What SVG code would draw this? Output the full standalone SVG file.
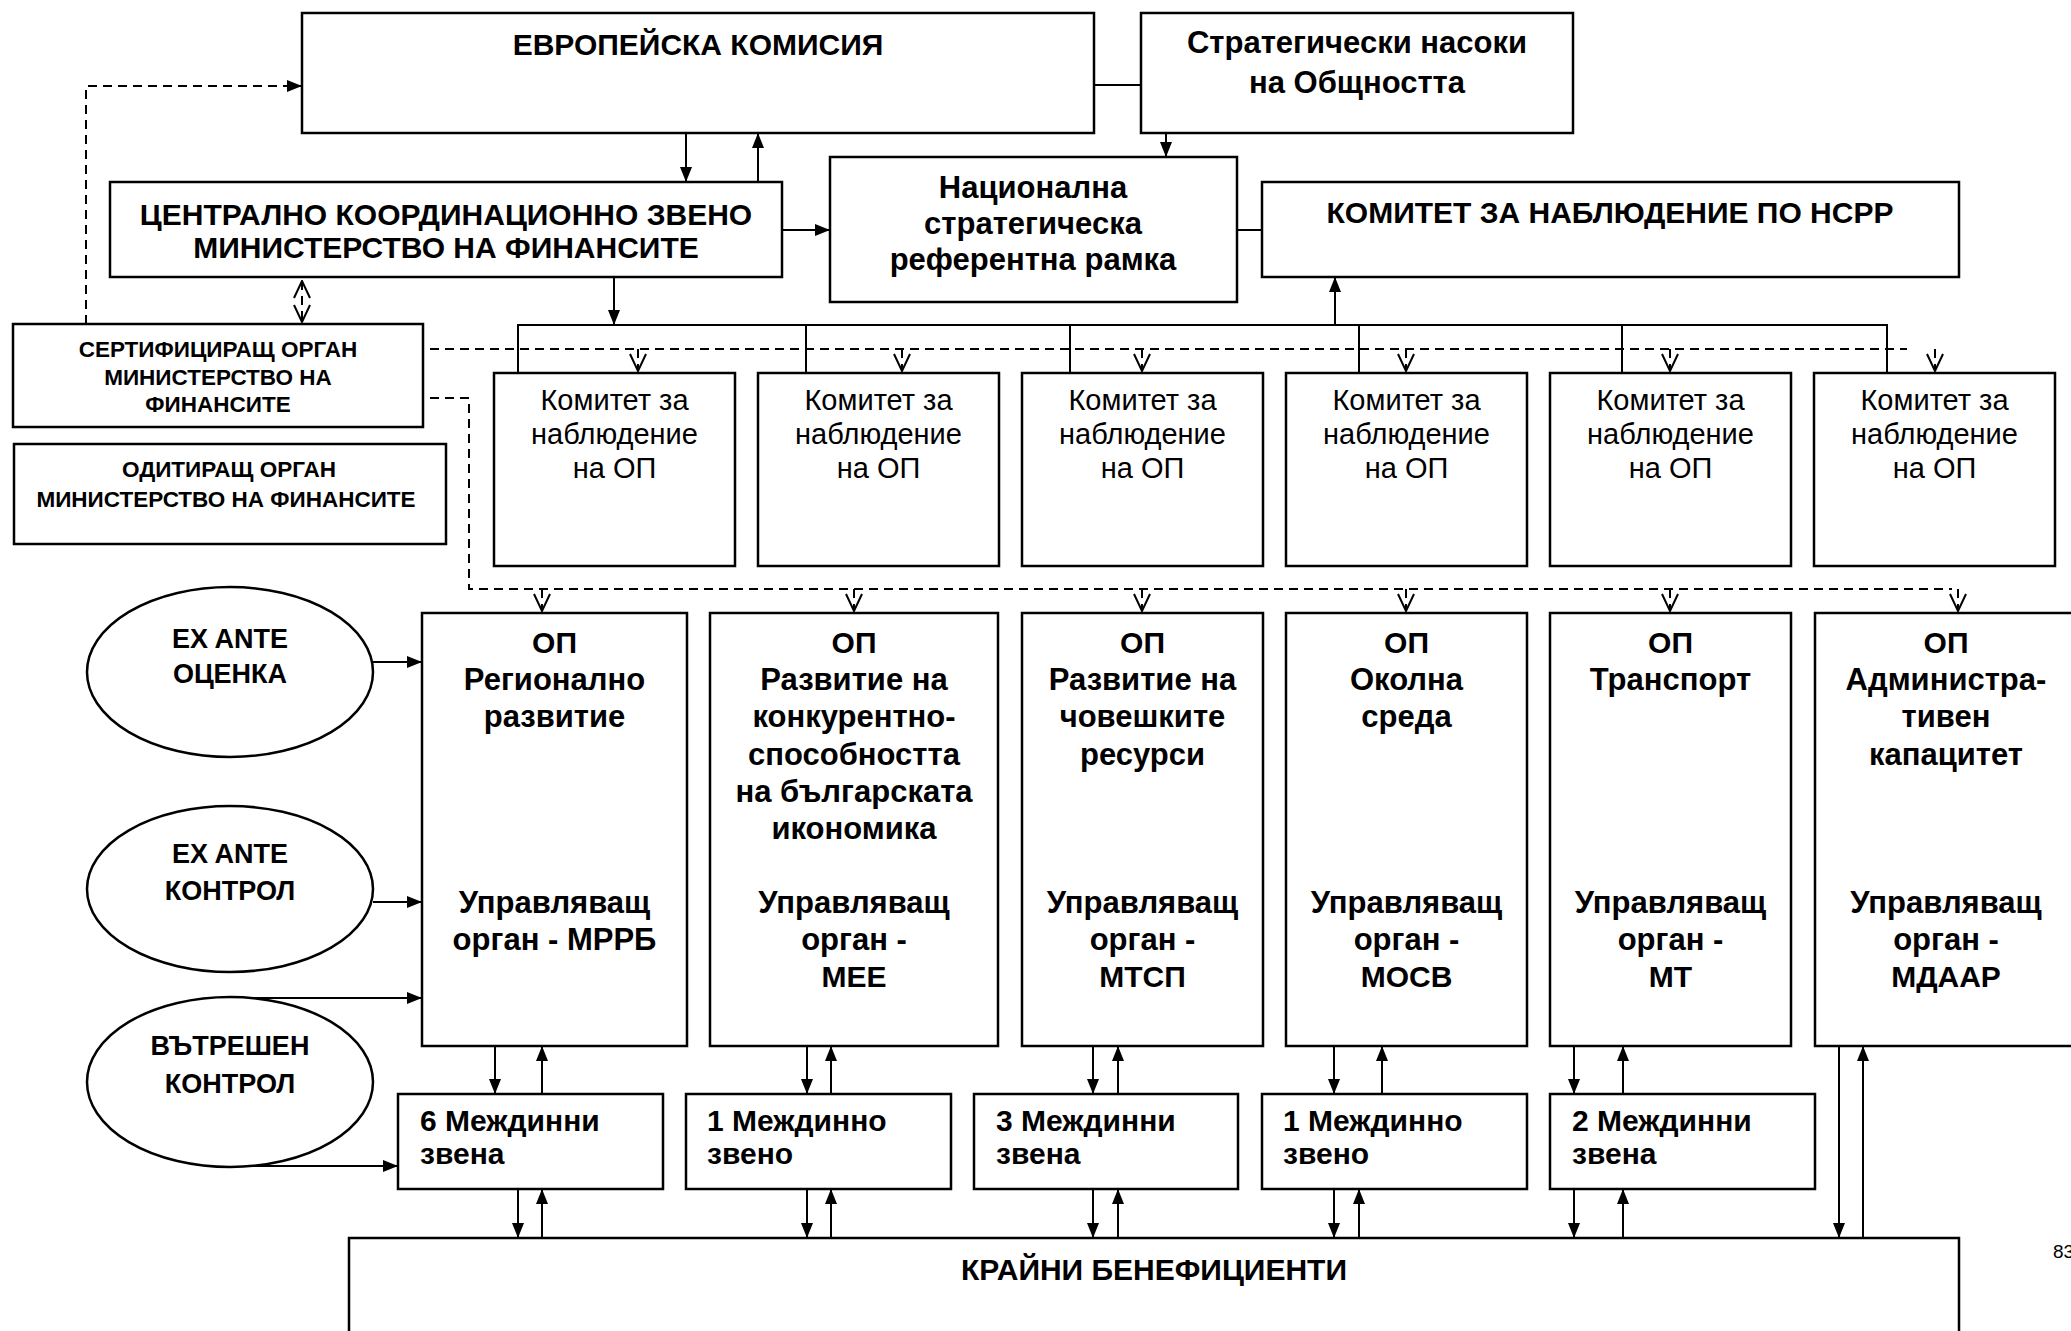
<svg xmlns="http://www.w3.org/2000/svg" width="2071" height="1331" viewBox="0 0 2071 1331">
<style>
.box{fill:#fff;stroke:#000;stroke-width:2.5}
.ln{fill:none;stroke:#000;stroke-width:2}
.dash{fill:none;stroke:#000;stroke-width:2;stroke-dasharray:9 6}
.t{font-family:"Liberation Sans",Arial,sans-serif;font-weight:bold;font-size:30px;text-anchor:middle;fill:#000}
.m{font-family:"Liberation Sans",Arial,sans-serif;font-weight:bold;font-size:31px;text-anchor:middle;fill:#000}
.n{font-family:"Liberation Sans",Arial,sans-serif;font-size:29px;text-anchor:middle;fill:#000}
.s{font-family:"Liberation Sans",Arial,sans-serif;font-weight:bold;font-size:22.5px;text-anchor:middle;fill:#000}
.e{font-family:"Liberation Sans",Arial,sans-serif;font-weight:bold;font-size:27px;text-anchor:middle;fill:#000}
.l{font-family:"Liberation Sans",Arial,sans-serif;font-weight:bold;font-size:30px;fill:#000}
</style>
<defs>
<marker id="a" viewBox="0 0 15 12" refX="15" refY="6" markerWidth="15" markerHeight="12" markerUnits="userSpaceOnUse" orient="auto"><path d="M0,0 L15,6 L0,12 z" fill="#000"/></marker>
<marker id="v" viewBox="0 0 19 18" refX="18" refY="9" markerWidth="19" markerHeight="18" markerUnits="userSpaceOnUse" orient="auto-start-reverse"><path d="M1,1 L18,9 L1,17" fill="none" stroke="#000" stroke-width="2"/></marker>
</defs>

<g id="connectors">
<line class="ln" x1="1094" y1="85" x2="1141" y2="85"/>
<line class="ln" x1="1166" y1="133" x2="1166" y2="157" marker-end="url(#a)"/>
<line class="ln" x1="686" y1="133" x2="686" y2="182" marker-end="url(#a)"/>
<line class="ln" x1="758" y1="182" x2="758" y2="133" marker-end="url(#a)"/>
<line class="ln" x1="782" y1="230" x2="830" y2="230" marker-end="url(#a)"/>
<line class="ln" x1="1237" y1="230" x2="1262" y2="230"/>
<line class="ln" x1="614" y1="277" x2="614" y2="325" marker-end="url(#a)"/>
<path class="ln" d="M518,373 V325 H1887 V373 M806,325 V373 M1070,325 V373 M1359,325 V373 M1622,325 V373"/>
<line class="ln" x1="1335" y1="325" x2="1335" y2="277" marker-end="url(#a)"/>
<path class="dash" d="M86,324 V86 H302" stroke-dasharray="8 5" marker-end="url(#a)"/>
<line class="dash" x1="302" y1="281" x2="302" y2="322" stroke-dasharray="5 4" marker-start="url(#v)" marker-end="url(#v)"/>
<line class="dash" x1="430" y1="349" x2="1907" y2="349"/>
<g class="dash">
<line x1="638" y1="349" x2="638" y2="371" marker-end="url(#v)"/>
<line x1="902" y1="349" x2="902" y2="371" marker-end="url(#v)"/>
<line x1="1142" y1="349" x2="1142" y2="371" marker-end="url(#v)"/>
<line x1="1406" y1="349" x2="1406" y2="371" marker-end="url(#v)"/>
<line x1="1670" y1="349" x2="1670" y2="371" marker-end="url(#v)"/>
<line x1="1935" y1="349" x2="1935" y2="371" marker-end="url(#v)"/>
</g>
<path class="dash" d="M430,398 H469 V589 H1952"/>
<g class="dash">
<line x1="542" y1="589" x2="542" y2="611" marker-end="url(#v)"/>
<line x1="854" y1="589" x2="854" y2="611" marker-end="url(#v)"/>
<line x1="1142" y1="589" x2="1142" y2="611" marker-end="url(#v)"/>
<line x1="1406" y1="589" x2="1406" y2="611" marker-end="url(#v)"/>
<line x1="1670" y1="589" x2="1670" y2="611" marker-end="url(#v)"/>
<line x1="1958" y1="589" x2="1958" y2="611" marker-end="url(#v)"/>
</g>
<line class="ln" x1="373" y1="662" x2="422" y2="662" marker-end="url(#a)"/>
<line class="ln" x1="373" y1="902" x2="422" y2="902" marker-end="url(#a)"/>
<line class="ln" x1="252" y1="998" x2="422" y2="998" marker-end="url(#a)"/>
<line class="ln" x1="231" y1="1166" x2="398" y2="1166" marker-end="url(#a)"/>
<g class="ln">
<line x1="495" y1="1046" x2="495" y2="1094" marker-end="url(#a)"/>
<line x1="542" y1="1094" x2="542" y2="1046" marker-end="url(#a)"/>
<line x1="807" y1="1046" x2="807" y2="1094" marker-end="url(#a)"/>
<line x1="831" y1="1094" x2="831" y2="1046" marker-end="url(#a)"/>
<line x1="1093" y1="1046" x2="1093" y2="1094" marker-end="url(#a)"/>
<line x1="1118" y1="1094" x2="1118" y2="1046" marker-end="url(#a)"/>
<line x1="1334" y1="1046" x2="1334" y2="1094" marker-end="url(#a)"/>
<line x1="1382" y1="1094" x2="1382" y2="1046" marker-end="url(#a)"/>
<line x1="1574" y1="1046" x2="1574" y2="1094" marker-end="url(#a)"/>
<line x1="1623" y1="1094" x2="1623" y2="1046" marker-end="url(#a)"/>
<line x1="518" y1="1189" x2="518" y2="1238" marker-end="url(#a)"/>
<line x1="542" y1="1238" x2="542" y2="1189" marker-end="url(#a)"/>
<line x1="807" y1="1189" x2="807" y2="1238" marker-end="url(#a)"/>
<line x1="831" y1="1238" x2="831" y2="1189" marker-end="url(#a)"/>
<line x1="1093" y1="1189" x2="1093" y2="1238" marker-end="url(#a)"/>
<line x1="1118" y1="1238" x2="1118" y2="1189" marker-end="url(#a)"/>
<line x1="1334" y1="1189" x2="1334" y2="1238" marker-end="url(#a)"/>
<line x1="1359" y1="1238" x2="1359" y2="1189" marker-end="url(#a)"/>
<line x1="1574" y1="1189" x2="1574" y2="1238" marker-end="url(#a)"/>
<line x1="1623" y1="1238" x2="1623" y2="1189" marker-end="url(#a)"/>
<line x1="1839" y1="1046" x2="1839" y2="1238" marker-end="url(#a)"/>
<line x1="1863" y1="1238" x2="1863" y2="1046" marker-end="url(#a)"/>
</g>
</g>

<g id="ek"><rect class="box" x="302" y="13" width="792" height="120"/><text class="t" x="698" y="55">ЕВРОПЕЙСКА КОМИСИЯ</text></g>
<g id="strat"><rect class="box" x="1141" y="13" width="432" height="120"/><text class="m" x="1357" y="53">Стратегически насоки</text><text class="m" x="1357" y="93">на Общността</text></g>
<g id="nsrr"><rect class="box" x="830" y="157" width="407" height="145"/><text class="m" x="1033" y="198">Национална</text><text class="m" x="1033" y="234">стратегическа</text><text class="m" x="1033" y="270">референтна рамка</text></g>
<g id="ckz"><rect class="box" x="110" y="182" width="672" height="95"/><text class="t" x="446" y="225">ЦЕНТРАЛНО КООРДИНАЦИОННО ЗВЕНО</text><text class="t" x="446" y="258">МИНИСТЕРСТВО НА ФИНАНСИТЕ</text></g>
<g id="knsrr"><rect class="box" x="1262" y="182" width="697" height="95"/><text class="t" x="1610" y="223">КОМИТЕТ ЗА НАБЛЮДЕНИЕ ПО НСРР</text></g>
<g id="cert"><rect class="box" x="13" y="324" width="410" height="103"/><text class="s" x="218" y="357">СЕРТИФИЦИРАЩ ОРГАН</text><text class="s" x="218" y="385">МИНИСТЕРСТВО НА</text><text class="s" x="218" y="412">ФИНАНСИТЕ</text></g>
<g id="audit"><rect class="box" x="14" y="444" width="432" height="100"/><text class="s" x="229" y="477">ОДИТИРАЩ ОРГАН</text><text class="s" x="226" y="507">МИНИСТЕРСТВО НА ФИНАНСИТЕ</text></g>

<g id="kn1"><rect class="box" x="494" y="373" width="241" height="193"/><text class="n" x="614.5" y="410">Комитет за</text><text class="n" x="614.5" y="444">наблюдение</text><text class="n" x="614.5" y="478">на ОП</text></g>
<g id="kn2"><rect class="box" x="758" y="373" width="241" height="193"/><text class="n" x="878.5" y="410">Комитет за</text><text class="n" x="878.5" y="444">наблюдение</text><text class="n" x="878.5" y="478">на ОП</text></g>
<g id="kn3"><rect class="box" x="1022" y="373" width="241" height="193"/><text class="n" x="1142.5" y="410">Комитет за</text><text class="n" x="1142.5" y="444">наблюдение</text><text class="n" x="1142.5" y="478">на ОП</text></g>
<g id="kn4"><rect class="box" x="1286" y="373" width="241" height="193"/><text class="n" x="1406.5" y="410">Комитет за</text><text class="n" x="1406.5" y="444">наблюдение</text><text class="n" x="1406.5" y="478">на ОП</text></g>
<g id="kn5"><rect class="box" x="1550" y="373" width="241" height="193"/><text class="n" x="1670.5" y="410">Комитет за</text><text class="n" x="1670.5" y="444">наблюдение</text><text class="n" x="1670.5" y="478">на ОП</text></g>
<g id="kn6"><rect class="box" x="1814" y="373" width="241" height="193"/><text class="n" x="1934.5" y="410">Комитет за</text><text class="n" x="1934.5" y="444">наблюдение</text><text class="n" x="1934.5" y="478">на ОП</text></g>

<g id="ell1"><ellipse class="box" cx="230" cy="672" rx="143" ry="85" stroke-width="2"/><text class="e" x="230" y="648">EX ANTE</text><text class="e" x="230" y="683">ОЦЕНКА</text></g>
<g id="ell2"><ellipse class="box" cx="230" cy="889" rx="143" ry="83" stroke-width="2"/><text class="e" x="230" y="863">EX ANTE</text><text class="e" x="230" y="900">КОНТРОЛ</text></g>
<g id="ell3"><ellipse class="box" cx="230" cy="1082" rx="143" ry="85" stroke-width="2"/><text class="e" x="230" y="1055">ВЪТРЕШЕН</text><text class="e" x="230" y="1093">КОНТРОЛ</text></g>

<g id="op1"><rect class="box" x="422" y="613" width="265" height="433"/><text class="t" x="554.5" y="653">ОП</text><text class="m" x="554.5" y="690">Регионално</text><text class="m" x="554.5" y="727">развитие</text><text class="m" x="554.5" y="913">Управляващ</text><text class="m" x="554.5" y="950">орган - МРРБ</text></g>
<g id="op2"><rect class="box" x="710" y="613" width="288" height="433"/><text class="t" x="854" y="653">ОП</text><text class="m" x="854" y="690">Развитие на</text><text class="m" x="854" y="727">конкурентно-</text><text class="m" x="854" y="765">способността</text><text class="m" x="854" y="802">на българската</text><text class="m" x="854" y="839">икономика</text><text class="m" x="854" y="913">Управляващ</text><text class="m" x="854" y="950">орган -</text><text class="t" x="854" y="987">МЕЕ</text></g>
<g id="op3"><rect class="box" x="1022" y="613" width="241" height="433"/><text class="t" x="1142.5" y="653">ОП</text><text class="m" x="1142.5" y="690">Развитие на</text><text class="m" x="1142.5" y="727">човешките</text><text class="m" x="1142.5" y="765">ресурси</text><text class="m" x="1142.5" y="913">Управляващ</text><text class="m" x="1142.5" y="950">орган -</text><text class="t" x="1142.5" y="987">МТСП</text></g>
<g id="op4"><rect class="box" x="1286" y="613" width="241" height="433"/><text class="t" x="1406.5" y="653">ОП</text><text class="m" x="1406.5" y="690">Околна</text><text class="m" x="1406.5" y="727">среда</text><text class="m" x="1406.5" y="913">Управляващ</text><text class="m" x="1406.5" y="950">орган -</text><text class="t" x="1406.5" y="987">МОСВ</text></g>
<g id="op5"><rect class="box" x="1550" y="613" width="241" height="433"/><text class="t" x="1670.5" y="653">ОП</text><text class="m" x="1670.5" y="690">Транспорт</text><text class="m" x="1670.5" y="913">Управляващ</text><text class="m" x="1670.5" y="950">орган -</text><text class="t" x="1670.5" y="987">МТ</text></g>
<g id="op6"><rect class="box" x="1815" y="613" width="262" height="433"/><text class="t" x="1946" y="653">ОП</text><text class="m" x="1946" y="690">Администра-</text><text class="m" x="1946" y="727">тивен</text><text class="m" x="1946" y="765">капацитет</text><text class="m" x="1946" y="913">Управляващ</text><text class="m" x="1946" y="950">орган -</text><text class="t" x="1946" y="987">МДААР</text></g>

<g id="ib1"><rect class="box" x="398" y="1094" width="265" height="95"/><text class="l" x="420" y="1131">6 Междинни</text><text class="l" x="420" y="1164">звена</text></g>
<g id="ib2"><rect class="box" x="686" y="1094" width="265" height="95"/><text class="l" x="707" y="1131">1 Междинно</text><text class="l" x="707" y="1164">звено</text></g>
<g id="ib3"><rect class="box" x="974" y="1094" width="264" height="95"/><text class="l" x="996" y="1131">3 Междинни</text><text class="l" x="996" y="1164">звена</text></g>
<g id="ib4"><rect class="box" x="1262" y="1094" width="265" height="95"/><text class="l" x="1283" y="1131">1 Междинно</text><text class="l" x="1283" y="1164">звено</text></g>
<g id="ib5"><rect class="box" x="1550" y="1094" width="265" height="95"/><text class="l" x="1572" y="1131">2 Междинни</text><text class="l" x="1572" y="1164">звена</text></g>

<g id="kb"><rect class="box" x="349" y="1238" width="1610" height="120"/><text class="t" x="1154" y="1280">КРАЙНИ БЕНЕФИЦИЕНТИ</text></g>
<text x="2053" y="1258" font-family="Liberation Sans, Arial, sans-serif" font-size="19" fill="#000">83</text>
</svg>
